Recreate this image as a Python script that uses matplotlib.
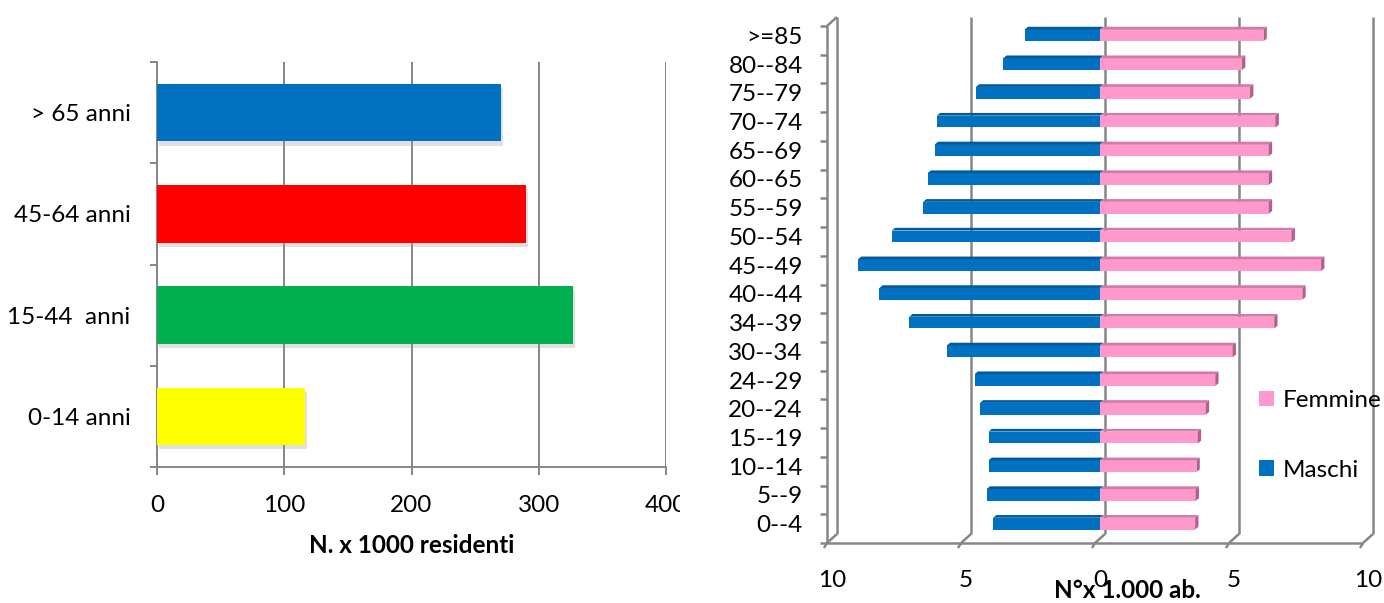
import numpy as np
import matplotlib
matplotlib.use('Agg')
import matplotlib.pyplot as plt
import matplotlib.patheffects as pe
from matplotlib.transforms import Bbox, TransformedBbox

plt.rcParams['font.family'] = ['Lato', 'DejaVu Sans']
FS = 17.5
GRID = '#868686'

# left panel: residents by age band (thousands)
fasce = ['0-14 anni', '15-44  anni', '45-64 anni', '> 65 anni']
residenti = [116, 327, 290, 270]
colori_fasce = ['#FFFF00', '#00B050', '#FF0000', '#0070C0']
ticks_sx = [0, 100, 200, 300, 400]

# right panel: age pyramid (x 1000 inhabitants)
classi = ['0--4', '5--9', '10--14', '15--19', '20--24', '24--29', '30--34',
          '34--39', '40--44', '45--49', '50--54', '55--59', '60--65',
          '65--69', '70--74', '75--79', '80--84', '>=85']
maschi = [3.99, 4.23, 4.16, 4.16, 4.48, 4.68, 5.71, 7.12, 8.23, 9.03,
          7.77, 6.60, 6.43, 6.16, 6.09, 4.63, 3.61, 2.81]
femmine = [3.55, 3.57, 3.60, 3.65, 3.95, 4.30, 4.95, 6.50, 7.55, 8.25,
           7.15, 6.30, 6.30, 6.30, 6.55, 5.60, 5.30, 6.10]
ticks_dx = [-10, -5, 0, 5, 10]
ticks_dx_lab = ['10', '5', '0', '5', '10']

W, H = 1384, 603
fig = plt.figure(figsize=(W / 100, H / 100), dpi=100)

# ---------------- left panel ----------------
ax1 = fig.add_axes([157 / W, 1 - 467 / H, 509 / W, 405 / H])
ypos = np.arange(len(fasce))
shadow = [pe.SimplePatchShadow(offset=(1.5, -3), shadow_rgbFace='0.6', alpha=0.3), pe.Normal()]
bars = ax1.barh(ypos, residenti, height=0.57, color=colori_fasce, zorder=3)
for b in bars:
    b.set_path_effects(shadow)

ax1.set_xlim(0, 400)
ax1.set_ylim(-0.5, len(fasce) - 0.5)
ax1.set_xticks(ticks_sx)
ax1.set_xticklabels([str(t) for t in ticks_sx], fontsize=FS)
ax1.set_yticks(ypos)
ax1.set_yticklabels(fasce, fontsize=FS)
ax1.set_yticks(np.arange(len(fasce) + 1) - 0.5, minor=True)
ax1.tick_params(axis='y', which='major', length=0, pad=19)
ax1.tick_params(axis='y', which='minor', length=5, width=1.4, color=GRID)
ax1.tick_params(axis='x', length=6, width=1.4, color=GRID, pad=14)
ax1.xaxis.grid(True, color=GRID, linewidth=1.4, zorder=0)
ax1.set_axisbelow(True)
for s in ['top', 'right']:
    ax1.spines[s].set_visible(False)
for s in ['left', 'bottom']:
    ax1.spines[s].set_color(GRID)
    ax1.spines[s].set_linewidth(1.4)
ax1.set_xlabel('N. x 1000 residenti', fontsize=FS, fontweight='bold', labelpad=13)

# the last tick label is cut by the chart area in the original
clip = TransformedBbox(Bbox.from_extents(0, 0, 680 / W, 1), fig.transFigure)
for lab in ax1.get_xticklabels():
    lab.set_clip_box(clip)
    lab.set_clip_on(True)

# ---------------- right panel (pseudo 3D) ----------------
ax2 = fig.add_axes([832 / W, 1 - 538 / H, 536 / W, 517 / H])
n = len(classi)
ax2.set_xlim(-10, 10)
ax2.set_ylim(-0.5, n - 0.5)
ylo, yhi = -0.5, n - 0.5

ux = 536 / 20.0     # px per x unit
uy = 517 / float(n)  # px per category
bx, by = 5 / ux, 4 / uy      # back plane offset
fx, fy = -5 / ux, -5 / uy    # front plane offset
kw = dict(color=GRID, linewidth=1.8, clip_on=False, solid_capstyle='butt', zorder=1)

# back wall and gridlines
for t in ticks_dx:
    ax2.plot([t + bx, t + bx], [ylo + by, yhi + by], **kw)
# front left axis and floor
ax2.plot([-10 + fx, -10 + fx], [ylo + fy, yhi + fy], **kw)
ax2.plot([-10 + fx, 10 + fx], [ylo + fy, ylo + fy], **kw)
ax2.plot([-10 + fx, -10 + bx], [yhi + fy, yhi + by], **kw)
for t in ticks_dx:
    ax2.plot([t + fx, t + bx], [ylo + fy, ylo + by], **kw)
    ax2.plot([t + fx, t + fx - 3 / ux], [ylo + fy, ylo + fy - 5 / uy], **kw)
for k in range(n + 1):
    yb = k - 0.5 + fy
    ax2.plot([-10 + fx, -10 + fx - 7 / ux], [yb, yb], **kw)

yc = np.arange(n)
h = 0.41
dx, dy = 3.3 / ux, 2.7 / uy
mb = ax2.barh(yc, -np.array(maschi), height=h, color='#0070C0', zorder=3, label='Maschi')
fb = ax2.barh(yc, femmine, height=h, color='#FF99CC', zorder=3, label='Femmine')
for c, m, f in zip(yc, maschi, femmine):
    top = c + h / 2
    ax2.fill([-m, 0, dx, -m + dx], [top, top, top + dy, top + dy],
             color='#005A9C', zorder=3, linewidth=0)
    ax2.fill([0, f, f + dx, dx], [top, top, top + dy, top + dy],
             color='#D07AA6', zorder=3, linewidth=0)
    ax2.fill([f, f + dx, f + dx, f], [c - h / 2, c - h / 2 + dy, top + dy, top],
             color='#B0608A', zorder=3, linewidth=0)

ax2.set_xticks(ticks_dx)
ax2.set_xticklabels(ticks_dx_lab, fontsize=FS)
ax2.set_yticks(yc)
ax2.set_yticklabels(classi, fontsize=FS)
ax2.tick_params(axis='x', length=0, pad=23)
ax2.tick_params(axis='y', length=0, pad=21)
for s in ax2.spines.values():
    s.set_visible(False)
fig.text(1127 / W, 1 - 591 / H, 'N°x 1.000 ab.', fontsize=FS, fontweight='bold',
         ha='center', va='center')

ax2.legend(handles=[fb, mb], labels=['Femmine', 'Maschi'], loc='upper left',
           bbox_to_anchor=(1259 / W, 1 - 390 / H), bbox_transform=fig.transFigure,
           frameon=False, fontsize=FS, handlelength=0.62, handleheight=0.62,
           handletextpad=0.35, labelspacing=2.0, borderpad=0, borderaxespad=0)

fig.savefig('out.png', dpi=100)
